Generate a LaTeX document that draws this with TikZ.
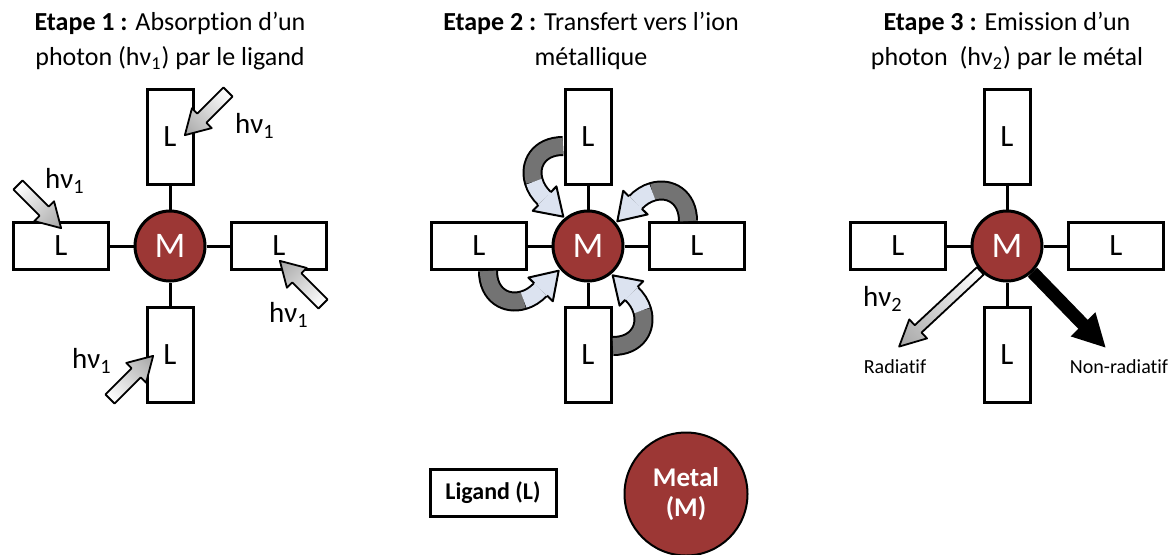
\documentclass[tikz,border=0pt]{standalone}
\usepackage{fontspec}
\setmainfont{Carlito}[Ligatures={TeX,NoCommon}]
\usetikzlibrary{positioning,arrows.meta}
\definecolor{metalred}{HTML}{9C3735}
\definecolor{pale}{HTML}{DCE3F0}
% style, tail, angle, length, shaft, head, head length
\newcommand\blockarrow[7]{%
  \begin{scope}[transform canvas={shift={#2},rotate=#3}]
    \shadedraw[#1] (0,-#5) -- ({#4-#7},-#5) -- ({#4-#7},-#6) -- (#4,0)
      -- ({#4-#7},#6) -- ({#4-#7},#5) -- (0,#5) -- cycle;
  \end{scope}}

\begin{document}
\begin{tikzpicture}[x=0.5pt,y=-0.5pt,node distance=54.5pt,on grid,
    metal/.style={circle,draw,line width=1.5pt,fill=metalred,text=white,
      minimum size=35pt,inner sep=0pt,font=\fontsize{18}{18}\selectfont},
    vlig/.style={rectangle,draw,line width=1.5pt,fill=white,inner sep=0pt,
      minimum width=23pt,minimum height=47.5pt,font=\fontsize{15.5}{15.5}\selectfont},
    hlig/.style={vlig,minimum width=47.5pt,minimum height=23.5pt},
    bond/.style={line width=1.5pt},
    title/.style={anchor=north,align=center,inner sep=0pt,
      font=\fontsize{13}{17.5}\selectfont},
    hv/.style={inner sep=0pt,font=\fontsize{14.5}{14.5}\selectfont},
    small/.style={inner sep=0pt,font=\fontsize{10}{10}\selectfont},
    photon/.style={line width=0.9pt,line join=round,left color=white,right color=black!35},
    nonrad/.style={line width=6.5pt,-{Triangle[length=16.5pt,width=16pt]}}]
  \useasboundingbox (0,0) rectangle (1173,554);

  % titles
  \node[title] (t1) at (170,12) {\textbf{Etape 1 :} Absorption d'un\\photon (hν\textsubscript{1}) par le ligand};
  \node[title] (t2) at (591,12) {\textbf{Etape 2 :} Transfert vers l'ion\\métallique};
  \node[title] (t3) at (1007,12) {\textbf{Etape 3 :} Emission d'un\\photon\ \ (hν\textsubscript{2}) par le métal};

  % etape 1
  \node[metal] (m1) at (170,246) {M};
  \node[vlig] (n1) [above=of m1] {L};
  \node[vlig] (s1) [below=of m1] {L};
  \node[hlig] (w1) [left=of m1] {L};
  \node[hlig] (e1) [right=of m1] {L};
  \path[bond] (m1) edge (n1) edge (s1) edge (w1) edge (e1);

  \blockarrow{photon}{(228,92)}{-135}{61}{6.5}{14}{24}
  \blockarrow{photon}{(18,185)}{-45}{61}{6.5}{14}{24}
  \blockarrow{photon}{(323,304)}{135}{61}{6.5}{14}{24}
  \blockarrow{photon}{(110,399)}{45}{61}{6.5}{14}{24}
  \node[hv] (h1) at (255,126) {hν\textsubscript{1}};
  \node[hv] (h2) at (65,181) {hν\textsubscript{1}};
  \node[hv] (h3) at (289,315) {hν\textsubscript{1}};
  \node[hv] (h4) at (92,361) {hν\textsubscript{1}};

  % etape 2
  \node[metal] (m2) at (588,246) {M};
  \node[vlig] (n2) [above=of m2] {L};
  \node[vlig] (s2) [below=of m2] {L};
  \node[hlig] (w2) [left=of m2] {L};
  \node[hlig] (e2) [right=of m2] {L};
  \path[bond] (m2) edge (n2) edge (s2) edge (w2) edge (e2);

  \foreach \r in {0,-90,-180,-270}{
    \begin{scope}[shift={(m2)},rotate=\r]
      \draw[line width=10pt] (-25,-100) .. controls (-49,-100) and (-59.5,-82) .. (-54.1,-64.3)
        .. controls (-52.4,-58.4) and (-48.8,-52.6) .. (-43.4,-47.4);
      \draw[line width=8pt,black!55] (-25,-100) .. controls (-49,-100) and (-59.5,-82) .. (-54.1,-64.3);
      \draw[line width=8pt,pale] (-54.1,-64.3) .. controls (-52.4,-58.4) and (-48.8,-52.6) .. (-43.4,-47.4);
      \begin{scope}[shift={(-43.4,-47.4)},rotate=-44]
        \fill[pale] (0,-17) -- (26,0) -- (0,17) -- cycle;
        \draw[line width=1pt,line join=round] (0,-9) -- (0,-17) -- (26,0) -- (0,17) -- (0,9);
      \end{scope}
    \end{scope}}

  % etape 3
  \node[metal] (m3) at (1007,246) {M};
  \node[vlig] (n3) [above=of m3] {L};
  \node[vlig] (s3) [below=of m3] {L};
  \node[hlig] (w3) [left=of m3] {L};
  \node[hlig] (e3) [right=of m3] {L};
  \path[bond] (m3) edge (n3) edge (s3) edge (w3) edge (e3);

  \blockarrow{photon}{(m3.-137)}{-137}{111}{5}{13}{26}
  \coordinate (nr) at (1106,348);
  \draw[nonrad] (m3) -- (nr);
  \node[hv] (h5) at (883,299) {hν\textsubscript{2}};
  \node[small] (rad) at (895,367) {Radiatif};
  \node[small] (nrad) at (1119,367) {Non-radiatif};

  % legende
  \node[rectangle,draw,line width=1.5pt,minimum width=63pt,minimum height=23.5pt,
    inner sep=0pt,font=\bfseries\fontsize{12}{12}\selectfont] (lig) at (493,493) {Ligand (L)};
  \node[metal,line width=1pt,minimum size=61.5pt,align=center,
    font=\bfseries\fontsize{13.5}{15}\selectfont] (met) at (686,494) {Metal\\(M)};
\end{tikzpicture}
\end{document}
